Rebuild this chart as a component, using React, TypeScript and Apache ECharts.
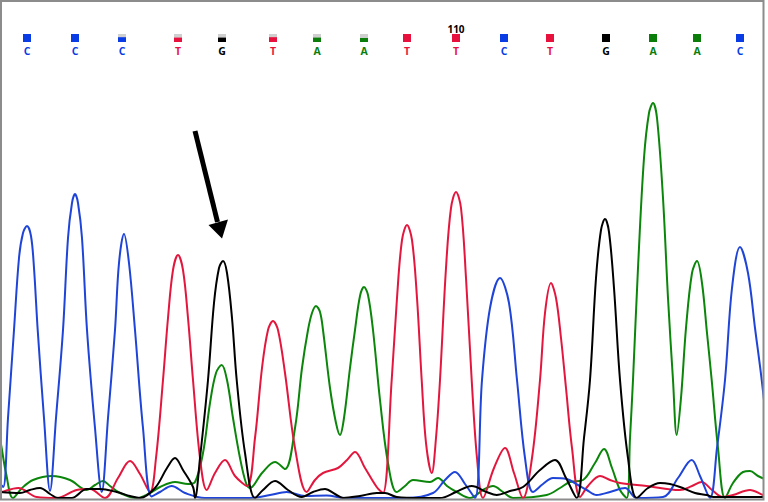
import React, { useEffect, useRef } from "react";
import * as echarts from "echarts";

// Base calls (scan position along x, called base, quality fraction of the marker)
const BASE_POS = [27, 75, 122, 178, 222, 273, 317, 364, 407, 456, 504, 550, 606, 653, 697, 740];
const BASES = ["C", "C", "C", "T", "G", "T", "A", "A", "T", "T", "C", "T", "G", "A", "A", "C"];
const BASE_QUALITY = [1, 1, 0.6, 0.55, 0.55, 0.6, 0.55, 0.5, 1, 1, 1, 1, 1, 1, 1, 1];
const POSITION_LABELS: [number, string][] = [[9, "110"]];

// Traces: [scan, amplitude]
const TRACE_C: [number, number][] = [
  [0, 14], [3.3, 11], [8, 80], [14, 168], [19, 240], [23, 265], [27, 272], [31, 262], [34, 230],
  [37.7, 168], [44, 80], [50, 7], [56, 80], [63, 168], [68, 260], [72, 295], [75, 304], [78, 295],
  [82, 260], [87, 168], [95, 70], [101.7, 6], [108, 80], [115, 168], [119, 235], [124, 264], [129, 235],
  [135, 168], [143, 70], [151.7, 1.5], [160, 6], [171.7, 12], [185, 5], [205, 0], [250, 0], [270, 3],
  [286.7, 6], [305, 2], [326.7, 2.5], [345, 0], [406.7, 0], [433, 5], [445, 18], [455, 26], [465, 14],
  [475, 0], [482, 118], [490, 190], [500, 220], [509, 195], [517, 118], [525, 40], [533, 6], [543, 14],
  [553, 20], [566.7, 19], [578, 13], [586.7, 8], [596.7, 3], [610, 6], [625, 10], [636.7, 0], [663, 1],
  [678, 20], [691.7, 38], [700, 22], [710, 0], [717, 50], [725, 118], [732, 210], [740, 251], [748, 225],
  [755, 170], [761.7, 118], [768, 60],
];
const TRACE_T: [number, number][] = [
  [0, 5], [1.7, 6], [18.3, 10], [36.7, 1], [56.7, 0], [76.7, 8], [90, 9], [105, 0], [118, 20], [130, 37],
  [140, 24], [150, 6], [156, 40], [163, 118], [168, 180], [173, 228], [178, 243], [183, 228], [188, 180],
  [193, 118], [200, 40], [206.7, 8], [215, 25], [225, 38], [235, 22], [247, 12], [255, 60], [262, 130],
  [268, 168], [273, 177], [278, 168], [285, 125], [295, 50], [306.7, 6], [315, 18], [323, 25], [338, 30],
  [347, 38], [355, 46], [365, 30], [376.7, 11], [383, 5], [391.7, 118], [397, 200], [402, 258], [407, 273],
  [412, 258], [417, 200], [421.7, 118], [426, 55], [431.7, 25], [436, 60], [440, 118], [446, 230],
  [451, 290], [456, 306], [461, 290], [466, 220], [471.7, 118], [477, 40], [483, 0], [494, 30], [505, 50],
  [514, 25], [523, 0], [532, 40], [540, 118], [545, 185], [551, 215], [556, 200], [561, 160], [566, 110],
  [572, 50], [580, 1], [588, 12], [600, 22], [610, 18], [620, 15], [646.7, 12], [680, 8], [692, 12],
  [701.7, 16], [712, 8], [723, 1], [733, 3], [750, 8], [763, 3], [768, 2],
];
const TRACE_A: [number, number][] = [
  [0, 60], [2, 48], [6, 25], [13, 0], [22, 10], [33, 18], [51.7, 22], [70, 18], [86.7, 8], [95, 13],
  [103, 17], [110, 12], [120, 5], [136.7, 0], [150, 5], [160, 11], [175, 16], [188, 14], [195, 16],
  [203, 45], [210, 95], [216, 125], [221.7, 133], [227, 118], [233, 80], [240, 40], [246, 15], [250, 10],
  [262, 25], [275, 36], [285, 29], [295, 70], [302, 130], [308, 168], [312, 185], [316, 192], [320, 186],
  [323, 168], [330, 110], [336, 75], [340, 63], [344, 80], [350, 130], [355, 168], [360, 202], [364, 211],
  [368, 203], [373, 168], [380, 98], [388, 35], [396.7, 6], [405, 12], [413, 18], [430, 16], [438, 20],
  [447, 12], [456.7, 6], [470, 0], [483, 8], [493, 12], [503, 6], [513, 0], [546.7, 3], [560, 10],
  [570, 16], [583, 18], [595, 35], [604, 49], [612, 30], [620, 8], [626.7, 0], [630, 60], [633, 118],
  [638, 230], [644, 340], [649, 385], [653, 395], [657, 380], [663, 300], [668, 200], [673, 118],
  [676.7, 63], [681, 100], [686, 170], [692, 225], [697, 237], [702, 215], [707, 165], [711.7, 118],
  [718, 50], [725, 0], [733, 15], [743, 26], [750, 27], [758, 22], [766.7, 18], [768, 17],
];
const TRACE_G: [number, number][] = [
  [0, 6], [20, 5], [30, 8], [40, 10], [50, 4], [58, 0], [71.7, 0], [86.7, 9], [100, 9], [116.7, 6],
  [130, 2], [140, 0], [155, 10], [167, 30], [175, 40], [183, 28], [193, 11], [195, 0], [200, 40],
  [208, 118], [214, 195], [219, 230], [223, 237], [227, 225], [232, 180], [236.7, 118], [245, 45],
  [255, 0], [263, 8], [275, 17], [288, 8], [301.7, 1], [313, 6], [325, 9], [335, 4], [343, 0], [360, 2],
  [376.7, 5], [385, 5], [396.7, 1], [420, 0], [440, 0], [456, 6], [471.7, 12], [486.7, 6], [496.7, 3],
  [510, 7], [523, 11], [540, 28], [555, 38], [566, 20], [576.7, 0], [584, 60], [590, 118], [596, 220],
  [601, 268], [605, 279], [609, 266], [614, 210], [620, 118], [628, 40], [636.7, 0], [648, 10], [660, 15],
  [670, 14], [680, 11], [695, 5], [706.7, 3], [713, 1], [768, 1],
];

const BASE_COLORS: Record<string, string> = {
  C: "#1f44d8",
  T: "#e3173e",
  G: "#000000",
  A: "#0b860b",
};
const LABEL_COLORS: Record<string, string> = {
  C: "#0a3ce6",
  T: "#e8103c",
  G: "#000000",
  A: "#0a7d0a",
};
const MARKER_LEVEL = 460;

export default function App() {
  const ref = useRef<HTMLDivElement>(null);
  useEffect(() => {
    document.body.style.margin = "0";
    const chart = echarts.init(ref.current!, undefined, { renderer: "svg" });
    const traceSeries = (name: string, data: [number, number][], color: string, z: number) => ({
      name,
      type: "line",
      data,
      smooth: 0.35,
      showSymbol: false,
      symbol: "none",
      lineStyle: { color, width: 2 },
      z,
      silent: true,
    });
    chart.setOption({
      animation: false,
      grid: { left: 0, top: 0, width: 763, height: 500 },
      xAxis: { type: "value", min: 0, max: 763, show: false },
      yAxis: { type: "value", min: -2, max: 498, show: false },
      series: [
        traceSeries("A", TRACE_A, BASE_COLORS.A, 2),
        traceSeries("T", TRACE_T, BASE_COLORS.T, 3),
        traceSeries("C", TRACE_C, BASE_COLORS.C, 4),
        traceSeries("G", TRACE_G, BASE_COLORS.G, 5),
        {
          type: "custom",
          silent: true,
          clip: false,
          z: 10,
          data: BASE_POS.map((p, i) => [p, BASE_QUALITY[i]]),
          renderItem: (params: any, api: any) => {
            const idx = params.dataIndex;
            const base = BASES[idx];
            const q = api.value(1);
            const pt = api.coord([api.value(0), MARKER_LEVEL]);
            const cx = pt[0];
            const cy = pt[1];
            const children: any[] = [
              { type: "rect", shape: { x: cx - 4, y: cy - 4, width: 8, height: 8 }, style: { fill: "#cfcfcf" } },
              {
                type: "rect",
                shape: { x: cx - 4, y: cy + 4 - 8 * q, width: 8, height: 8 * q },
                style: { fill: LABEL_COLORS[base] },
              },
              {
                type: "text",
                x: cx,
                y: cy + 12.5,
                style: {
                  text: base,
                  fill: LABEL_COLORS[base],
                  font: "bold 10.5px 'Open Sans', sans-serif",
                  align: "center",
                  verticalAlign: "middle",
                },
              },
            ];
            POSITION_LABELS.forEach(([bi, label]) => {
              if (bi === idx) {
                children.push({
                  type: "text",
                  x: cx,
                  y: cy - 9.5,
                  style: {
                    text: label,
                    fill: "#000",
                    font: "bold 10px 'Open Sans', sans-serif",
                    align: "center",
                    verticalAlign: "middle",
                  },
                });
              }
            });
            return { type: "group", children };
          },
        },
      ],
      graphic: [
        {
          type: "rect",
          z: 100,
          silent: true,
          shape: { x: 1, y: 1, width: 762.5, height: 498.5 },
          style: { fill: "none", stroke: "#8c8c8c", lineWidth: 2 },
        },
        {
          type: "line",
          z: 100,
          silent: true,
          shape: { x1: 195, y1: 131, x2: 217.5, y2: 222 },
          style: { stroke: "#000", lineWidth: 5 },
        },
        {
          type: "polygon",
          z: 100,
          silent: true,
          shape: { points: [[208.5, 225], [228, 219.5], [222, 238.5]] },
          style: { fill: "#000" },
        },
      ],
    });
    return () => chart.dispose();
  }, []);
  return (
    <div
      ref={ref}
      style={{ position: "absolute", left: 0, top: 0, width: 768, height: 502 }}
    />
  );
}
